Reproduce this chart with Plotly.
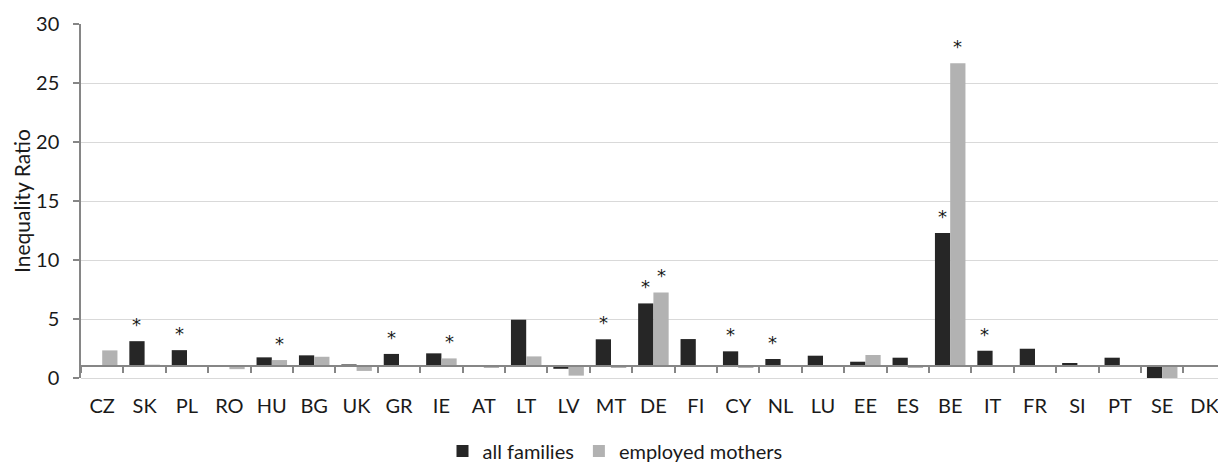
import plotly.graph_objects as go

countries = ["CZ", "SK", "PL", "RO", "HU", "BG", "UK", "GR", "IE", "AT", "LT", "LV", "MT", "DE",
             "FI", "CY", "NL", "LU", "EE", "ES", "BE", "IT", "FR", "SI", "PT", "SE", "DK"]
all_families = [1.04, 3.12, 2.36, 1.0, 1.75, 1.92, 1.15, 2.04, 2.09, 1.04, 4.94, 0.78, 3.28, 6.32,
                3.30, 2.26, 1.61, 1.89, 1.38, 1.72, 12.28, 2.31, 2.48, 1.27, 1.72, 0.0, 1.0]
employed_mothers = [2.34, 1.13, 1.02, 0.75, 1.52, 1.80, 0.6, 1.0, 1.66, 0.9, 1.83, 0.2, 0.9, 7.25,
                    1.0, 0.9, 1.0, 0.95, 1.95, 0.9, 26.67, 1.03, 0.95, 1.0, 1.0, 0.0, 1.0]
star_all = ["SK", "PL", "GR", "MT", "DE", "CY", "NL", "BE", "IT"]
star_emp = ["HU", "IE", "DE", "BE"]
baseline = 1.0

FONT = "Lato"
BLACK = "#262626"
GREY = "#b2b2b2"
AXIS = "#868686"
TXT = "#1a1a1a"

fig = go.Figure()
fig.add_trace(go.Bar(name="all families", x=countries,
                     y=[v - baseline for v in all_families], base=baseline,
                     marker=dict(color=BLACK, line=dict(width=0))))
fig.add_trace(go.Bar(name="employed mothers", x=countries,
                     y=[v - baseline for v in employed_mothers], base=baseline,
                     marker=dict(color=GREY, line=dict(width=0))))

W, H = 1218, 466
ml, mr, mt, mb = 81, 0, 24, 88
plot_w = W - ml - mr
cat_w = 42.4
x_hi = -0.5 + plot_w / cat_w
bargap = 0.28
half = cat_w * (1 - bargap) / 4

annotations = []
for c, v in zip(countries, all_families):
    if c in star_all:
        annotations.append(dict(x=c, y=v, text="*", showarrow=False, xshift=-half, yshift=4,
                                yanchor="bottom", font=dict(size=18, color=TXT, family="DejaVu Sans")))
for c, v in zip(countries, employed_mothers):
    if c in star_emp:
        annotations.append(dict(x=c, y=v, text="*", showarrow=False, xshift=half, yshift=4,
                                yanchor="bottom", font=dict(size=18, color=TXT, family="DejaVu Sans")))
# y-axis title
annotations.append(dict(text="Inequality Ratio", xref="paper", yref="paper",
                        x=(21 - ml) / plot_w, y=0.5, xanchor="center", yanchor="middle",
                        textangle=-90, showarrow=False, font=dict(size=21, color=TXT, family=FONT)))

fig.update_layout(
    width=W, height=H,
    margin=dict(l=ml, r=mr, t=mt, b=mb, autoexpand=False),
    paper_bgcolor="white", plot_bgcolor="white",
    font=dict(family=FONT, size=20, color=TXT),
    barmode="group", bargap=bargap, bargroupgap=0,
    showlegend=True,
    legend=dict(orientation="h", xref="paper", x=(615 - ml) / plot_w, xanchor="center",
                yref="container", y=(H - 451) / H, yanchor="middle",
                font=dict(size=20), traceorder="normal"),
    annotations=annotations,
    xaxis=dict(type="category", range=[-0.5, x_hi], anchor="free", position=baseline / 30,
               showline=True, linecolor=AXIS, linewidth=1.5, automargin=False,
               ticks="outside", tickson="boundaries", ticklen=6, tickcolor=AXIS, tickwidth=1.5,
               showgrid=False, zeroline=False, ticklabelstandoff=22,
               tickfont=dict(size=20)),
    yaxis=dict(range=[0, 30], dtick=5, showline=True, linecolor=AXIS, linewidth=1.5,
               ticks="outside", ticklen=6, tickcolor=AXIS, tickwidth=1.5,
               showgrid=True, gridcolor="#d9d9d9", gridwidth=1.2,
               zeroline=True, zerolinecolor="#d9d9d9", zerolinewidth=1.2,
               ticklabelstandoff=10, tickfont=dict(size=20), automargin=False),
)

fig.write_html("out.html", config={"displayModeBar": False},
               post_script="document.body.style.margin='0';document.body.style.overflow='hidden';")
